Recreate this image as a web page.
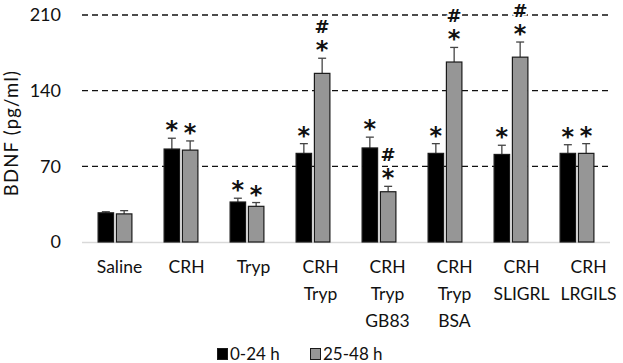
<!DOCTYPE html>
<html>
<head>
<meta charset="utf-8">
<script src="https://cdn.jsdelivr.net/npm/d3@7"></script>
<style>
  body { margin: 0; background: #fff; }
  text { font-family: Lato, "Open Sans", sans-serif; fill: #111; }
</style>
</head>
<body>
<script>
// DATA
const categories = [
  ['Saline'],
  ['CRH'],
  ['Tryp'],
  ['CRH', 'Tryp'],
  ['CRH', 'Tryp', 'GB83'],
  ['CRH', 'Tryp', 'BSA'],
  ['CRH', 'SLIGRL'],
  ['CRH', 'LRGILS'],
];
const seriesNames = ['0-24 h', '25-48 h'];
const early = [27, 86, 37, 82, 87, 82, 81, 82];
const earlyErr = [1, 10, 3.5, 9, 10, 9, 8.5, 8];
const late = [26, 85, 33, 156, 46.5, 166.5, 171, 82];
const lateErr = [3, 8.5, 3.5, 14, 5, 13.5, 14, 9];
// significance marks: '*' = vs saline, '#' = vs 0-24 h
const earlyMarks = ['', '*', '*', '*', '*', '*', '*', '*'];
const lateMarks = ['', '*', '*', '*#', '*#', '*#', '*#', '*'];
const yTicks = [0, 70, 140, 210];

const width = 623;
const height = 363;
const margin = { left: 82, right: 13, top: 15, bottom: 121 };

const svg = d3
  .select('body')
  .append('svg')
  .attr('width', width)
  .attr('height', height);

const x = d3
  .scaleBand()
  .domain(d3.range(categories.length))
  .range([margin.left, width - margin.right]);

// category labels sit a little right of the bars, as in the original
const xLabel = d3
  .scaleBand()
  .domain(d3.range(categories.length))
  .range([86, 622]);

const y = d3
  .scaleLinear()
  .domain([0, 210])
  .range([height - margin.bottom, margin.top]);

const barW = 16.5;
const gap = 1.8;

// GRID
svg
  .append('g')
  .selectAll('line')
  .data(yTicks.filter((d) => d > 0))
  .join('line')
  .attr('x1', margin.left)
  .attr('x2', width - margin.right)
  .attr('y1', (d) => y(d))
  .attr('y2', (d) => y(d))
  .attr('stroke', '#111')
  .attr('stroke-width', 1.3)
  .attr('stroke-dasharray', '6,4');

svg
  .append('line')
  .attr('x1', margin.left)
  .attr('x2', width - margin.right)
  .attr('y1', y(0) + 0.5)
  .attr('y2', y(0) + 0.5)
  .attr('stroke', '#d9d9d9')
  .attr('stroke-width', 1.5);

// Y AXIS
svg
  .append('g')
  .selectAll('text')
  .data(yTicks)
  .join('text')
  .attr('x', 61)
  .attr('y', (d) => y(d))
  .attr('dy', '0.36em')
  .attr('text-anchor', 'end')
  .style('font-size', '18px')
  .text((d) => d);

svg
  .append('text')
  .attr('transform', `translate(18, 133) rotate(-90)`)
  .attr('text-anchor', 'middle')
  .style('font-size', '18.5px')
  .style('letter-spacing', '1.2px')
  .text('BDNF (pg/ml)');

// BARS
const series = [
  { values: early, err: early.map((d, i) => d + earlyErr[i]), marks: earlyMarks, fill: '#000', dx: -barW - gap / 2 },
  { values: late, err: late.map((d, i) => d + lateErr[i]), marks: lateMarks, fill: '#969696', dx: gap / 2 },
];

series.forEach((s) => {
  const g = svg.append('g');
  const cx = (i) => x(i) + x.bandwidth() / 2 + s.dx + barW / 2;
  const idx = d3.range(s.values.length);

  g.selectAll('line.err')
    .data(idx)
    .join('line')
    .attr('class', 'err')
    .attr('x1', (i) => cx(i))
    .attr('x2', (i) => cx(i))
    .attr('y1', (i) => y(s.values[i]))
    .attr('y2', (i) => y(s.err[i]))
    .attr('stroke', '#444')
    .attr('stroke-width', 1.3);

  g.selectAll('line.cap')
    .data(idx)
    .join('line')
    .attr('class', 'cap')
    .attr('x1', (i) => cx(i) - 4)
    .attr('x2', (i) => cx(i) + 4)
    .attr('y1', (i) => y(s.err[i]))
    .attr('y2', (i) => y(s.err[i]))
    .attr('stroke', '#444')
    .attr('stroke-width', 1.3);

  g.selectAll('rect')
    .data(idx)
    .join('rect')
    .attr('x', (i) => cx(i) - barW / 2 + 0.5)
    .attr('y', (i) => y(s.values[i]))
    .attr('width', barW - 1)
    .attr('height', (i) => y(0) - y(s.values[i]))
    .attr('fill', s.fill)
    .attr('stroke', '#1a1a1a')
    .attr('stroke-width', 1.2);

  // star centre ~13px above the cap, hash ~19px above the star
  g.selectAll('text.star')
    .data(idx.filter((i) => s.marks[i].includes('*')))
    .join('text')
    .attr('class', 'star')
    .attr('x', (i) => cx(i))
    .attr('y', (i) => y(s.err[i]) - 13 + 13)
    .attr('text-anchor', 'middle')
    .style('font-family', '"DejaVu Sans", sans-serif')
    .style('font-weight', 'bold')
    .style('font-size', '24px')
    .text('*');

  g.selectAll('text.hash')
    .data(idx.filter((i) => s.marks[i].includes('#')))
    .join('text')
    .attr('class', 'hash')
    .attr('x', (i) => cx(i))
    .attr('y', (i) => y(s.err[i]) - 32 + 6.5)
    .attr('text-anchor', 'middle')
    .style('font-family', '"DejaVu Sans", sans-serif')
    .style('font-size', '18px')
    .style('font-weight', 'bold')
    .style('stroke', '#fff')
    .style('stroke-width', 3)
    .style('paint-order', 'stroke')
    .text('#');
});

// X LABELS
const xl = svg.append('g');
categories.forEach((lines, i) => {
  lines.forEach((t, j) => {
    xl.append('text')
      .attr('x', xLabel(i) + xLabel.bandwidth() / 2)
      .attr('y', 273 + j * 27)
      .attr('text-anchor', 'middle')
      .style('font-size', '17.5px')
      .text(t);
  });
});

// LEGEND
const legend = svg.append('g');
const legendX = [217, 310];
seriesNames.forEach((name, i) => {
  legend
    .append('rect')
    .attr('x', legendX[i] + 0.5)
    .attr('y', 348.5)
    .attr('width', 10)
    .attr('height', 11)
    .attr('fill', series[i].fill)
    .attr('stroke', '#1a1a1a');
  legend
    .append('text')
    .attr('x', legendX[i] + 13)
    .attr('y', 359.5)
    .style('font-size', '17px')
    .text(name);
});
</script>
</body>
</html>
